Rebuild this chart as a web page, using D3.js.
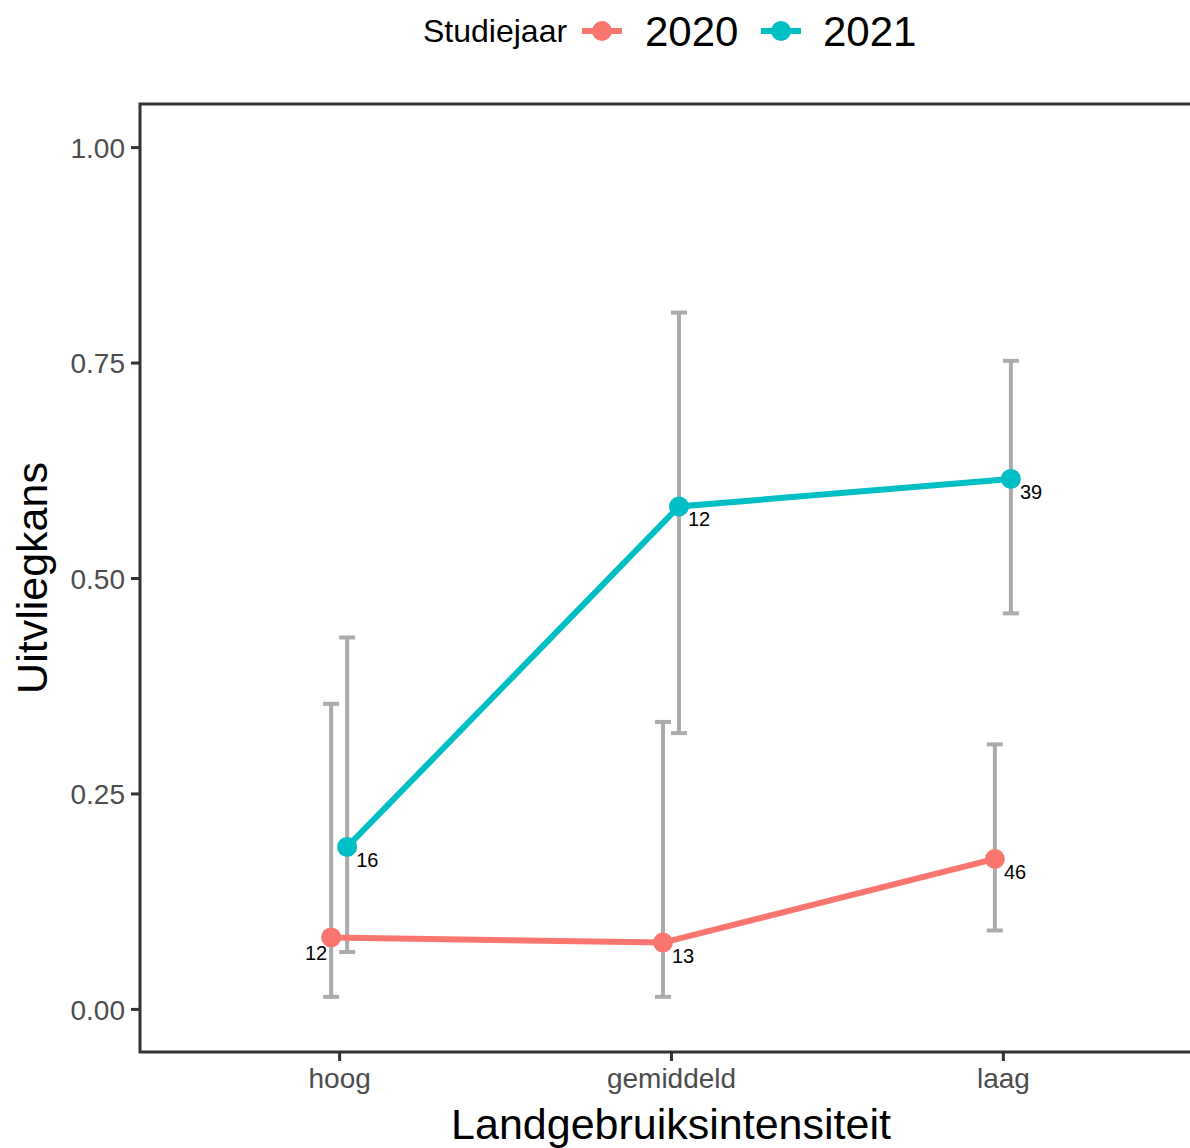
<!DOCTYPE html>
<html>
<head>
<meta charset="utf-8">
<script src="https://cdn.jsdelivr.net/npm/d3@7"></script>
<style>
  body { margin: 0; background: #fff; }
  text { font-family: "Liberation Sans", Arial, sans-serif; }
</style>
</head>
<body>
<svg id="chart" width="1190" height="1148"></svg>
<script>
// Data
var categories = ["hoog", "gemiddeld", "laag"];
var years = ["2020", "2021"];
var yearColors = ["#F8766D", "#00BFC4"];

var est2020 = [0.083, 0.077, 0.174];
var low2020 = [0.014, 0.014, 0.091];
var high2020 = [0.354, 0.333, 0.307];
var n2020 = [12, 13, 46];

var est2021 = [0.188, 0.583, 0.615];
var low2021 = [0.066, 0.320, 0.459];
var high2021 = [0.431, 0.808, 0.752];
var n2021 = [16, 12, 39];

var yTicks = [0, 0.25, 0.5, 0.75, 1];

var series = [
    {year: years[0], color: yearColors[0], est: est2020, low: low2020, high: high2020, n: n2020},
    {year: years[1], color: yearColors[1], est: est2021, low: low2021, high: high2021, n: n2021}
];

var svg = d3.select("#chart");
var margin = {top: 104, right: -12, bottom: 96, left: 140};
var width = 1190 - margin.left - margin.right;
var height = 1148 - margin.top - margin.bottom;
var g = svg.append("g").attr("transform", "translate(" + margin.left + "," + margin.top + ")");

// Scales (discrete axis with ggplot-like 0.6 expansion)
var x = d3.scalePoint().domain(categories).range([0, width]).padding(0.6);
var y = d3.scaleLinear().domain([-0.05, 1.05]).range([height, 0]);
var dodge = d3.scalePoint().domain(years).range([-8, 8]);

// Axes
var yAxis = g.append("g")
    .call(d3.axisLeft(y).tickValues(yTicks).tickFormat(d3.format(".2f")).tickSize(9).tickPadding(6));
yAxis.select(".domain").remove();
yAxis.selectAll("line").attr("stroke", "#333333").attr("stroke-width", 3);
yAxis.selectAll("text").attr("fill", "#4D4D4D").style("font-size", "28px").attr("dy", "0.36em");

var xAxis = g.append("g")
    .attr("transform", "translate(0," + height + ")")
    .call(d3.axisBottom(x).tickSize(9).tickPadding(6));
xAxis.select(".domain").remove();
xAxis.selectAll("line").attr("stroke", "#333333").attr("stroke-width", 3);
xAxis.selectAll("text").attr("fill", "#4D4D4D").style("font-size", "28px").attr("dy", "0.75em");

// Error bars
series.forEach(function(s) {
    var eb = g.append("g").selectAll("g")
        .data(categories)
        .enter().append("g")
        .attr("transform", d => "translate(" + (x(d) + dodge(s.year)) + ",0)");
    eb.append("line")
        .attr("y1", (d, i) => y(s.low[i]))
        .attr("y2", (d, i) => y(s.high[i]))
        .attr("stroke", "#ABABAB").attr("stroke-width", 4);
    eb.append("line")
        .attr("x1", -8).attr("x2", 8)
        .attr("y1", (d, i) => y(s.low[i])).attr("y2", (d, i) => y(s.low[i]))
        .attr("stroke", "#ABABAB").attr("stroke-width", 4);
    eb.append("line")
        .attr("x1", -8).attr("x2", 8)
        .attr("y1", (d, i) => y(s.high[i])).attr("y2", (d, i) => y(s.high[i]))
        .attr("stroke", "#ABABAB").attr("stroke-width", 4);
});

// Lines
var line = d3.line();
series.forEach(function(s) {
    g.append("path")
        .attr("d", line(categories.map((c, i) => [x(c) + dodge(s.year), y(s.est[i])])))
        .attr("fill", "none")
        .attr("stroke", s.color)
        .attr("stroke-width", 6);
});

// Points and sample size labels
series.forEach(function(s, si) {
    g.selectAll(".pt" + si)
        .data(categories)
        .enter().append("circle")
        .attr("cx", d => x(d) + dodge(s.year))
        .attr("cy", (d, i) => y(s.est[i]))
        .attr("r", 10)
        .attr("fill", s.color);

    g.selectAll(".lab" + si)
        .data(categories)
        .enter().append("text")
        .attr("x", (d, i) => x(d) + dodge(s.year) + (si === 0 && i === 0 ? -4 : 9))
        .attr("y", (d, i) => y(s.est[i]) + (si === 0 && i === 0 ? 23 : 20))
        .style("text-anchor", (d, i) => si === 0 && i === 0 ? "end" : "start")
        .style("font-size", "20px")
        .attr("fill", "#000")
        .text((d, i) => s.n[i]);
});

// Panel border
g.append("rect")
    .attr("width", width).attr("height", height)
    .attr("fill", "none")
    .attr("stroke", "#333333")
    .attr("stroke-width", 3);

// Axis titles
svg.append("text")
    .attr("x", margin.left + width / 2)
    .attr("y", 1139)
    .style("text-anchor", "middle")
    .style("font-size", "43px")
    .text("Landgebruiksintensiteit");

svg.append("text")
    .attr("transform", "translate(47," + (margin.top + height / 2) + ") rotate(-90)")
    .style("text-anchor", "middle")
    .style("font-size", "43px")
    .text("Uitvliegkans");

// Legend
var legend = svg.append("g").attr("transform", "translate(0,31)");
legend.append("text")
    .attr("x", 423).attr("y", 11)
    .style("font-size", "32px")
    .text("Studiejaar");

var keyX = [582, 761];
var labX = [645, 823];
series.forEach(function(s, i) {
    legend.append("line")
        .attr("x1", keyX[i]).attr("x2", keyX[i] + 40)
        .attr("stroke", s.color).attr("stroke-width", 6);
    legend.append("circle")
        .attr("cx", keyX[i] + 20).attr("r", 10)
        .attr("fill", s.color);
    legend.append("text")
        .attr("x", labX[i]).attr("y", 15)
        .style("font-size", "42px")
        .text(s.year);
});
</script>
</body>
</html>
